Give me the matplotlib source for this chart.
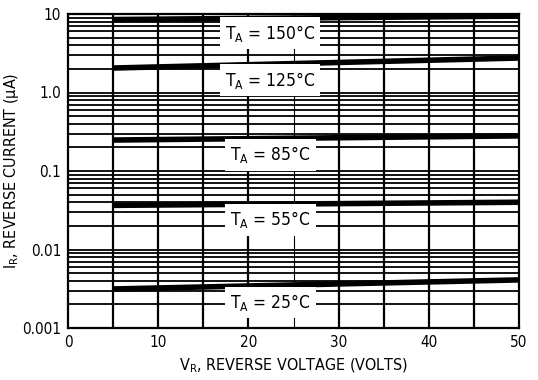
import matplotlib
matplotlib.use("Agg")
import matplotlib.pyplot as plt
import numpy as np

# Data
v_r = [5, 50]
curves = {
    "150": [8.5, 9.4],
    "125": [2.05, 2.75],
    "85": [0.248, 0.28],
    "55": [0.0365, 0.040],
    "25": [0.00314, 0.0041],
}
label_y = {"150": 5.7, "125": 1.44, "85": 0.16, "55": 0.0238, "25": 0.0021}
y_ticks = [0.001, 0.01, 0.1, 1.0, 10]
y_ticklabels = ["0.001", "0.01", "0.1", "1.0", "10"]
x_ticks = [0, 10, 20, 30, 40, 50]

plt.rcParams['font.family'] = ['DejaVu Sans Condensed', 'Liberation Sans Narrow', 'DejaVu Sans']
plt.rcParams['font.stretch'] = 'condensed'

fig = plt.figure(figsize=(5.38, 3.8), dpi=100)
ax = fig.add_axes([68/538, 1-328/380, (519-68)/538, (328-14)/380])
ax.set_yscale('log')
ax.set_xlim(0, 50)
ax.set_ylim(0.001, 10)

# grid
for xv in np.arange(5, 50, 5):
    lw = 0.8 if xv == 25 else 1.6
    ax.axvline(xv, color='black', lw=lw, zorder=1)
for dec in [0.001, 0.01, 0.1, 1.0]:
    for m in range(1, 10):
        yv = dec * m
        if yv <= 0.001:
            continue
        ax.axhline(yv, color='black', lw=1.3, zorder=1)

for k, vals in curves.items():
    ax.plot(v_r, vals, color='black', lw=4, solid_capstyle='butt', zorder=3)
    ax.text(22.4, label_y[k], r"T$_\mathregular{A}$ = " + k + "°C", ha='center', va='center',
            fontsize=12.5, zorder=4,
            bbox=dict(boxstyle='square,pad=0.3', fc='white', ec='none'))

ax.set_xticks(x_ticks)
ax.set_yticks(y_ticks)
ax.set_yticklabels(y_ticklabels)
ax.yaxis.set_minor_locator(matplotlib.ticker.NullLocator())
ax.tick_params(length=0, labelsize=11, pad=5)
for s in ax.spines.values():
    s.set_linewidth(1.6)

ax.set_xlabel(r"V$_\mathregular{R}$, REVERSE VOLTAGE (VOLTS)", fontsize=11.5, labelpad=5)
ax.set_ylabel(r"I$_\mathregular{R}$, REVERSE CURRENT (μA)", fontsize=11.5)
ax.yaxis.set_label_coords(-0.105, 0.5)

fig.savefig("out.png", dpi=100)
